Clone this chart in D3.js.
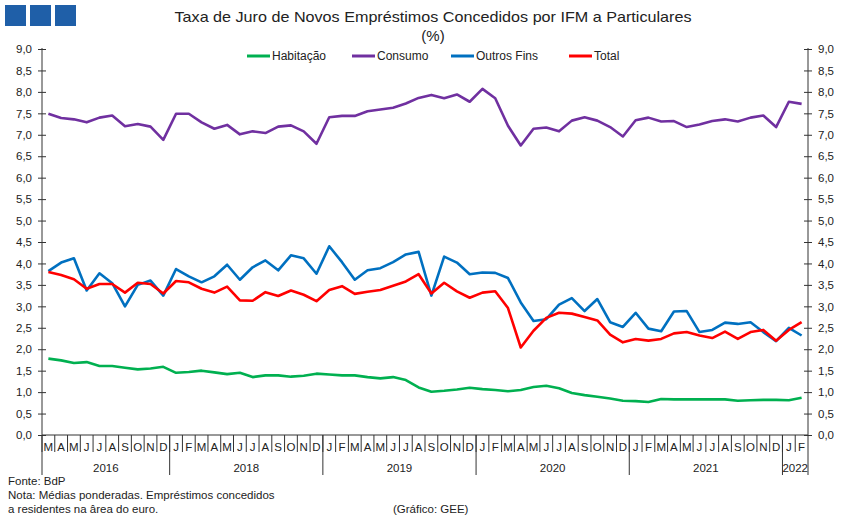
<!DOCTYPE html>
<html><head><meta charset="utf-8">
<script src="https://cdn.jsdelivr.net/npm/d3@7"></script>
<style>
html,body{margin:0;padding:0;background:#fff;}
svg text{font-family:"Liberation Sans",Arial,sans-serif;}
</style></head>
<body><svg id="c" width="851" height="524"></svg>
<script>
const monthLabels = ["M","A","M","J","J","A","S","O","N","D",
 "J","F","M","A","M","J","J","A","S","O","N","D",
 "J","F","M","A","M","J","J","A","S","O","N","D",
 "J","F","M","A","M","J","J","A","S","O","N","D",
 "J","F","M","A","M","J","J","A","S","O","N","D",
 "J","F"];
const yearLabels = ["2016","2018","2019","2020","2021","2022"];
const yearMonths = [10,12,12,12,12,2];
const yTicks = [0,0.5,1,1.5,2,2.5,3,3.5,4,4.5,5,5.5,6,6.5,7,7.5,8,8.5,9];

const habitacao = [1.78,1.74,1.68,1.70,1.61,1.61,1.57,1.53,1.55,1.59,
 1.45,1.47,1.50,1.46,1.42,1.45,1.35,1.39,1.39,1.36,1.38,1.43,
 1.41,1.39,1.39,1.35,1.32,1.35,1.28,1.11,1.01,1.03,1.06,1.10,
 1.07,1.05,1.02,1.05,1.12,1.15,1.09,0.98,0.93,0.89,0.85,0.80,
 0.79,0.77,0.84,0.83,0.83,0.83,0.83,0.83,0.80,0.81,0.82,0.82,
 0.81,0.87];
const consumo = [7.49,7.39,7.36,7.29,7.40,7.45,7.20,7.25,7.19,6.88,
 7.49,7.49,7.29,7.14,7.23,7.01,7.08,7.04,7.19,7.22,7.08,6.79,
 7.41,7.44,7.44,7.55,7.59,7.63,7.73,7.86,7.93,7.85,7.94,7.77,
 8.07,7.85,7.21,6.75,7.14,7.17,7.08,7.33,7.41,7.33,7.18,6.96,
 7.34,7.40,7.31,7.32,7.18,7.24,7.32,7.36,7.31,7.40,7.45,7.18,
 7.77,7.72];
const outrosFins = [3.82,4.02,4.12,3.37,3.77,3.54,3.00,3.50,3.60,3.25,
 3.87,3.70,3.56,3.70,3.97,3.62,3.91,4.07,3.84,4.19,4.12,3.76,
 4.40,4.03,3.62,3.84,3.89,4.03,4.21,4.27,3.25,4.16,4.02,3.75,
 3.79,3.78,3.66,3.09,2.66,2.70,3.04,3.19,2.89,3.17,2.63,2.52,
 2.85,2.48,2.42,2.88,2.89,2.40,2.45,2.62,2.59,2.63,2.40,2.19,
 2.50,2.32];
const total = [3.80,3.73,3.63,3.41,3.52,3.52,3.32,3.55,3.52,3.30,
 3.59,3.56,3.41,3.32,3.46,3.14,3.13,3.33,3.24,3.37,3.27,3.12,
 3.38,3.47,3.29,3.34,3.38,3.48,3.58,3.75,3.30,3.55,3.35,3.20,
 3.32,3.35,2.96,2.04,2.43,2.73,2.85,2.83,2.75,2.67,2.34,2.16,
 2.24,2.20,2.24,2.37,2.40,2.32,2.26,2.41,2.24,2.40,2.45,2.20,
 2.45,2.63];

const seriesNames = ["Habitação","Consumo","Outros Fins","Total"];
const seriesColors = ["#00b050","#7030a0","#0070c0","#ff0000"];
const seriesData = [habitacao, consumo, outrosFins, total];

const svg = d3.select("#c");
const L = 42, R = 808, T = 49, B = 435;
const x = d3.scaleBand().domain(d3.range(monthLabels.length)).range([L, R]).padding(0);
const y = d3.scaleLinear().domain([0, 9]).range([B, T]);
const fmt = v => d3.format(".1f")(v).replace(".", ",");

// logo
[0,1,2].forEach(i => svg.append("rect").attr("x", 5 + i*25).attr("y", 5).attr("width", 21).attr("height", 21).attr("fill", "#1f5fa8"));

// title
svg.append("text").attr("x", 433).attr("y", 22).attr("text-anchor","middle").attr("font-size",15).attr("fill","#222")
  .attr("textLength", 517).attr("lengthAdjust","spacingAndGlyphs")
  .text("Taxa de Juro de Novos Empréstimos  Concedidos por IFM a Particulares");
svg.append("text").attr("x", 433).attr("y", 41).attr("text-anchor","middle").attr("font-size",15).attr("fill","#222").text("(%)");

// legend
const legX = [247, 352, 451, 569];
seriesNames.forEach((n,i) => {
  svg.append("line").attr("x1", legX[i]).attr("x2", legX[i]+23).attr("y1", 56).attr("y2", 56)
    .attr("stroke", seriesColors[i]).attr("stroke-width", 3);
  svg.append("text").attr("x", legX[i]+25).attr("y", 60).attr("font-size", 12).attr("fill","#222").text(n);
});

// y axes
const gl = svg.append("g").attr("transform", `translate(${L},0)`)
  .call(d3.axisLeft(y).tickValues(yTicks).tickFormat(fmt).tickSizeOuter(0).tickSize(4).tickPadding(6));
const gr = svg.append("g").attr("transform", `translate(${R},0)`)
  .call(d3.axisRight(y).tickValues(yTicks).tickFormat(fmt).tickSizeOuter(0).tickSize(4).tickPadding(6));
[gl, gr].forEach(g => {
  g.select(".domain").attr("stroke","#333");
  g.selectAll(".tick line").attr("x1", -4).attr("x2", 4).attr("stroke","#333");
  g.selectAll(".tick text").attr("font-size", 11.5).attr("fill","#222").attr("font-family","Liberation Sans, Arial, sans-serif");
});
gl.select(".domain").attr("d", `M0,${T-1}V${B}`);
gr.select(".domain").attr("d", `M0,${T-1}V${B}`);

// x axis
const gx = svg.append("g");
gx.append("line").attr("x1", L).attr("x2", R).attr("y1", B).attr("y2", B).attr("stroke","#333");
monthLabels.forEach((m,i) => {
  gx.append("line").attr("x1", x(i)).attr("x2", x(i)).attr("y1", B).attr("y2", 452).attr("stroke","#333");
  gx.append("text").attr("x", x(i) + x.bandwidth()/2).attr("y", 451).attr("text-anchor","middle")
    .attr("font-size", 11.5).attr("fill","#222").text(m);
});
gx.append("line").attr("x1", R).attr("x2", R).attr("y1", B).attr("y2", 475).attr("stroke","#333");
let start = 0;
yearLabels.forEach((yl, k) => {
  const end = start + yearMonths[k];
  const x0 = x(start), x1 = end < monthLabels.length ? x(end) : R;
  gx.append("line").attr("x1", x0).attr("x2", x0).attr("y1", B).attr("y2", 475).attr("stroke","#333");
  gx.append("text").attr("x", (x0 + x1)/2).attr("y", 472).attr("text-anchor","middle")
    .attr("font-size", 11.5).attr("fill","#222").text(yl);
  start = end;
});

// lines
const line = d3.line().x((d,i) => x(i) + x.bandwidth()/2).y(d => y(d));
seriesData.forEach((s,i) => {
  svg.append("path").datum(s).attr("d", line).attr("fill","none")
    .attr("stroke", seriesColors[i]).attr("stroke-width", 2.6).attr("stroke-linejoin","round");
});

// footer
const foot = [["Fonte: BdP", 8, 485], ["Nota: Médias ponderadas. Empréstimos concedidos", 8, 499], ["a residentes na ârea do euro.", 8, 513], ["(Gráfico: GEE)", 393, 513]];
foot.forEach(f => svg.append("text").attr("x", f[1]).attr("y", f[2]).attr("font-size", 11.5).attr("fill","#222").text(f[0]));
</script></body></html>
